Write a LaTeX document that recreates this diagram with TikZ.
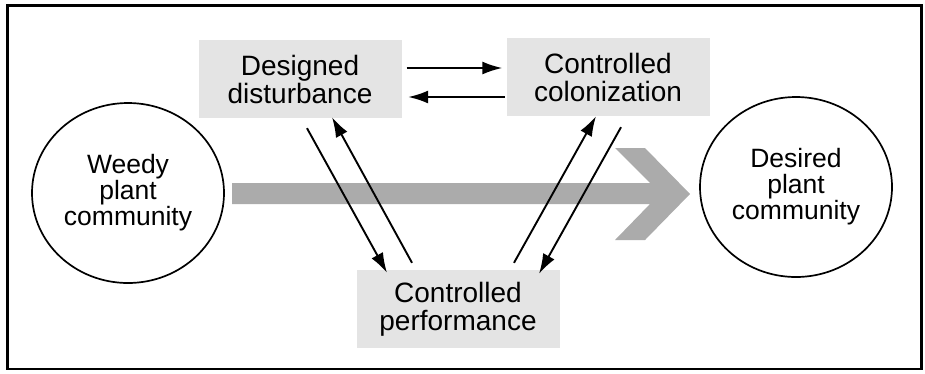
\documentclass[tikz,border=0pt]{standalone}
\usepackage{fontspec}
\setmainfont{Liberation Sans}
\usetikzlibrary{arrows.meta, calc, shapes.geometric}
\definecolor{boxgray}{HTML}{E4E4E4}
\definecolor{shaftgray}{HTML}{ABABAB}
\tikzset{
stage/.style = {fill = boxgray, minimum width = 203pt, minimum height = 78pt, inner sep = 0pt, align = center, font = \fontsize{28}{28}\selectfont},
community/.style = {draw, ellipse, line width = 1.7pt, minimum width = 192pt, minimum height = 180pt, inner sep = 0pt, align = center, font = \fontsize{26.5}{26}\selectfont},
flow/.style = {line width = 1.9pt, -{Latex[length = 20pt, width = 13pt]}}
}
\begin{document}
\begin{tikzpicture}[x = 1pt, y = -1pt]
\useasboundingbox (0,0) rectangle (925,373);
\draw [line width = 2.5pt] (7.5,5.5) rectangle (921.5,369);
\fill [shaftgray] (232,183) -- (650,183) -- (615,148) -- (645,148) -- (690,194) -- (645,240) -- (615,240) -- (650,204) -- (232,204) -- cycle;
\node [stage] (dist) at (300,79) {Designed\\disturbance};
\node [stage] (colon) at (608,77) {Controlled\\colonization};
\node [stage] (perf) at (458,309) {Controlled\\performance};
\node [community] (weedy) at (128,193) {Weedy\\plant\\community};
\node [community] (desired) at (796,187) {Desired\\plant\\community};
\draw [flow] ($(dist.east)+(5,-11)$) -- ($(colon.west)+(-4,-9)$);
\draw [flow] ($(colon.west)+(-1.5,20)$) -- ($(dist.east)+(6.5,18)$);
\draw [flow] ($(dist.south)+(7,10)$) -- ($(perf.north)+(-71,3)$);
\draw [flow] ($(perf.north)+(-46,-7)$) -- ($(dist.south)+(32,-1)$);
\draw [flow] ($(perf.north)+(56,-7)$) -- ($(colon.south)+(-12,0)$);
\draw [flow] ($(colon.south)+(13,11)$) -- ($(perf.north)+(81,4)$);
\end{tikzpicture}
\end{document}
